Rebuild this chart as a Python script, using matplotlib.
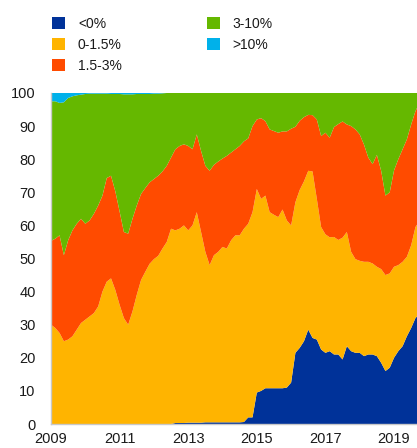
import numpy as np
import matplotlib
matplotlib.use('Agg')
import matplotlib.pyplot as plt
from matplotlib.patches import Patch

plt.rcParams['font.family'] = ['Liberation Sans', 'DejaVu Sans']

# datas em anos decimais (passo de 1,5 meses, ate meados de 2019)
datas = np.append(np.arange(2009, 2019.63, 0.125), 2019.67)

rotulos = ['<0%', '0-1.5%', '1.5-3%', '3-10%', '>10%']
cores = ['#003299', '#FFB400', '#FF4B00', '#65B800', '#00B1EA']

# participacoes (%)
negativo = [0, 0, 0, 0, 0, 0, 0, 0, 0, 0, 0, 0, 0, 0, 0, 0, 0, 0, 0, 0,
            0, 0, 0, 0, 0, 0, 0, 0, 0, 0.3, 0.3, 0.3, 0.4, 0.4, 0.4, 0.4, 0.5, 0.5, 0.5, 0.5,
            0.5, 0.5, 0.5, 0.5, 0.5, 0.6, 2.0, 2.0, 9.5, 10, 10.8, 10.8, 10.8, 10.8, 10.8, 11, 12.5, 21.5, 23, 25,
            28.5, 26, 25.5, 22.5, 21.5, 22, 21, 21, 19.5, 23.5, 22, 21.5, 21.5, 20.5, 21, 21, 20.5, 18.5, 16, 17,
            20, 22, 23.5, 26.5, 29, 32, 32.5]
baixo = [30, 29, 27.5, 25, 25.5, 26.5, 28.5, 30.5, 31.5, 32.5, 33.5, 35.5, 40, 43, 44, 40.5, 36, 32, 30, 34,
         39, 43.5, 46, 48.4, 49.8, 50.8, 53, 55, 59, 58.2, 58.7, 59.7, 58.1, 59.6, 63.6, 57.6, 51.5, 47.5, 50.5, 51.5,
         53, 52.5, 55, 56.5, 56.5, 58.4, 58.5, 62, 61.5, 58, 58.2, 53.2, 52.4, 51.7, 54, 50.5, 47.5, 45.5, 47.7, 48.3,
         48, 50.3, 42.5, 37, 35.8, 34.4, 35.5, 34.6, 36.8, 34.5, 30, 28.3, 27.8, 28.5, 28, 27.5, 27, 28.3, 29, 28.5,
         27.5, 26, 25.5, 24, 25, 27.5, 27.7]
medio = [25.3, 27, 29.5, 26, 30, 32, 32, 31.5, 29, 29, 30, 30.5, 29, 31.3, 31, 29.8, 28.2, 26, 27.5, 28,
         27, 26, 25.3, 24.6, 24.2, 24.2, 23.3, 23, 21.5, 24.5, 25, 24.5, 25.5, 23, 23.5, 24.5, 26, 28.5, 27.3, 27.3,
         26.7, 28, 26.5, 26, 27, 26.4, 25.8, 26, 21, 24.4, 22.5, 25, 25.3, 25.5, 23.6, 26.9, 29.2, 22.8, 20.9, 19.4,
         16.9, 17, 24, 27.5, 30.7, 30.1, 33.2, 35, 35.1, 32.5, 38, 39.2, 38.2, 35.4, 31.5, 30, 33.8, 29.7, 24, 24.5,
         29.1, 32, 34, 35.5, 36.5, 35, 35.3]
alto = [42.2, 41.5, 40, 46.2, 43, 40.5, 38.8, 37.5, 39.2, 38.3, 36.3, 33.8, 30.8, 25.5, 24.7, 29.4, 35.5, 41.6, 42.1, 37.6,
        33.7, 30.2, 28.4, 26.7, 25.8, 24.8, 23.6, 22, 19.5, 17, 16, 15.5, 16, 17, 12.5, 17.5, 22, 23.5, 21.7, 20.7,
        19.8, 19, 18, 17, 16, 14.6, 13.7, 10, 8, 7.6, 8.5, 11, 11.5, 12, 11.6, 11.6, 10.8, 10.2, 8.4, 7.3,
        6.6, 6.7, 8, 13, 12, 13.5, 10.3, 9.4, 8.6, 9.5, 10, 11, 12.5, 15.6, 19.5, 21.5, 18.7, 23.5, 31, 30,
        23.4, 20, 17, 14, 9.5, 5.5, 4.5]
muito_alto = [2.5, 2.5, 3, 2.8, 1.5, 1, 0.7, 0.5, 0.3, 0.2, 0.2, 0.2, 0.2, 0.2, 0.3, 0.3, 0.3, 0.4, 0.4, 0.4,
              0.3, 0.3, 0.3, 0.3, 0.2, 0.2, 0.1] + [0] * 60

fig = plt.figure(figsize=(4.17, 4.48), dpi=100)
ax = fig.add_axes([51 / 417, 1 - 424 / 448, 366 / 417, 331 / 448])

ax.stackplot(datas, negativo, baixo, medio, alto, muito_alto,
             colors=cores, linewidth=0)

ax.set_xlim(2009, 2019.67)
ax.set_ylim(0, 100)
ax.set_xticks([2009, 2011, 2013, 2015, 2017, 2019])
ax.set_yticks(range(0, 101, 10))
ax.tick_params(axis='both', length=0, labelsize=10.5, colors='#1a1a1a')
ax.tick_params(axis='y', pad=11)
ax.tick_params(axis='x', pad=6)

for lado in ['top', 'right']:
    ax.spines[lado].set_visible(False)
for lado in ['left', 'bottom']:
    ax.spines[lado].set_color('#c8c8c8')
    ax.spines[lado].set_linewidth(1.0)

handles = [Patch(facecolor=c, edgecolor='none') for c in cores]
fig.legend(handles, rotulos, loc='upper left', bbox_to_anchor=(52 / 417, 1 - 17 / 448),
           ncol=2, frameon=False, fontsize=10, borderpad=0, borderaxespad=0,
           handlelength=0.94, handleheight=0.94, handletextpad=0.93,
           columnspacing=6.1, labelspacing=0.5, labelcolor='#1a1a1a')

fig.savefig('out.png', dpi=100)
